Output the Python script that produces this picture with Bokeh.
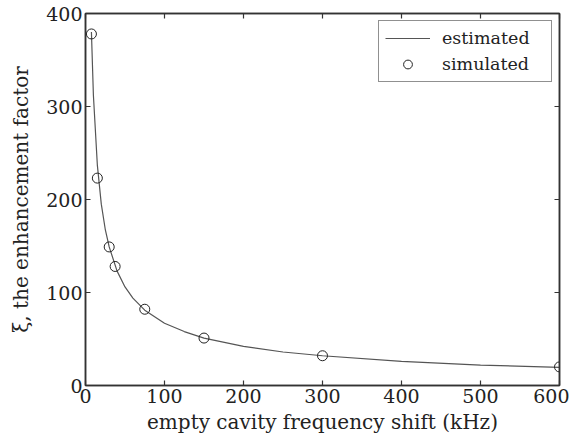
from bokeh.plotting import figure
from bokeh.models import LinearAxis, Range1d, Legend, LegendItem, FixedTicker
from bokeh.embed import file_html
from bokeh.resources import INLINE

# estimated curve
est_x = [7.5, 10, 15, 20, 25, 30, 40, 50, 60, 75, 100, 125, 150, 200, 250, 300, 400, 500, 600]
est_y = [380, 312, 237, 195, 168, 149, 123, 106, 94, 81, 67, 58, 51, 42, 36, 32, 26, 22, 19.5]

# simulated points
sim_x = [7.5, 15, 30, 37.5, 75, 150, 300, 600]
sim_y = [378, 223, 149, 128, 82, 51, 32, 20]

x_ticks = [0, 100, 200, 300, 400, 500, 600]
y_ticks = [0, 100, 200, 300, 400]

FONT = "DejaVu Serif"
AX = "#333333"
TXT = "#222222"

p = figure(frame_width=474, frame_height=372, x_range=Range1d(0, 600), y_range=Range1d(0, 400),
           output_backend="svg", toolbar_location=None,
           min_border_left=85, min_border_right=10, min_border_top=13, min_border_bottom=50)

p.xgrid.visible = False
p.ygrid.visible = False
p.outline_line_color = AX
p.outline_line_width = 1.5
p.background_fill_color = "white"
p.border_fill_color = "white"

for ax, ticks in ((p.xaxis[0], x_ticks), (p.yaxis[0], y_ticks)):
    ax.ticker = FixedTicker(ticks=ticks)
    ax.major_tick_in = 5
    ax.major_tick_out = 0
    ax.minor_tick_in = 0
    ax.minor_tick_out = 0
    ax.axis_line_color = AX
    ax.axis_line_width = 1.5
    ax.major_tick_line_color = AX
    ax.major_tick_line_width = 1.2
    ax.major_label_text_font = FONT
    ax.major_label_text_font_size = "19px"
    ax.major_label_text_color = TXT
    ax.major_label_standoff = 3
    ax.axis_label_text_font = FONT
    ax.axis_label_text_font_size = "20px"
    ax.axis_label_text_font_style = "normal"
    ax.axis_label_text_color = TXT

p.xaxis[0].axis_label_standoff = 4
p.yaxis[0].axis_label_standoff = 10
p.xaxis[0].axis_label = "empty cavity frequency shift (kHz)"
p.yaxis[0].axis_label = "ξ, the enhancement factor"

for side, ticks in (("above", x_ticks), ("right", y_ticks)):
    a = LinearAxis(ticker=FixedTicker(ticks=ticks))
    a.major_tick_in = 5
    a.major_tick_out = 0
    a.minor_tick_in = 0
    a.minor_tick_out = 0
    a.axis_line_color = AX
    a.axis_line_width = 1.5
    a.major_tick_line_color = AX
    a.major_tick_line_width = 1.2
    a.major_label_text_font_size = "0px"
    a.major_label_standoff = 0
    p.add_layout(a, side)

line = p.line(est_x, est_y, line_color="#555555", line_width=1.2)
pts = p.scatter(sim_x, sim_y, marker="circle", size=10, fill_color=None,
                line_color=TXT, line_width=1)

legend = Legend(items=[LegendItem(label="estimated", renderers=[line]),
                       LegendItem(label="simulated", renderers=[pts])],
                location="top_right")
legend.label_text_font = FONT
legend.label_text_font_size = "17.5px"
legend.label_text_color = TXT
legend.border_line_color = TXT
legend.border_line_width = 1.2
legend.background_fill_alpha = 1
legend.glyph_width = 45
legend.glyph_height = 22
legend.label_height = 22
legend.label_width = 103
legend.spacing = 4
legend.padding = 6
legend.margin = 7
legend.label_standoff = 12
p.add_layout(legend)

open("out.html", "w").write(file_html(p, INLINE))
